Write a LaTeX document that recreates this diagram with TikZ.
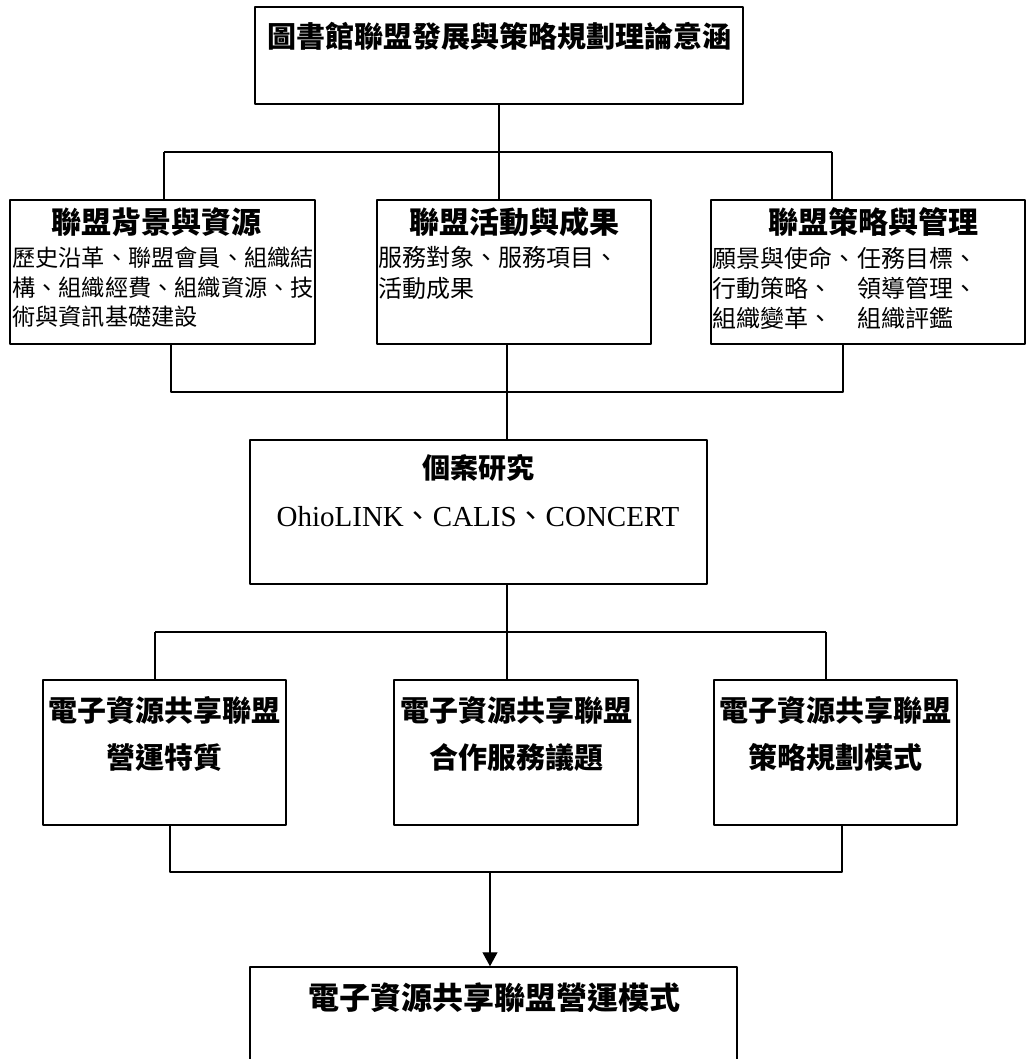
\documentclass[tikz,border=0pt]{standalone}
\usepackage{fontspec}
\setmainfont{Liberation Serif}
\newfontfamily\hei{Noto Sans CJK TC}
\usetikzlibrary{arrows.meta}

\tikzset{
  box/.style={draw, line width=1.5pt, rectangle, inner sep=0pt},
  conn/.style={line width=1.2pt},
  ttl/.style={font=\hei\bfseries\fontsize{29}{29}\selectfont, inner sep=0pt},
  body/.style={font=\hei\fontsize{24}{24}\selectfont, inner sep=0pt, anchor=west},
}
\newcommand{\dun}{{\hei 、}}

\begin{document}
\begin{tikzpicture}[x=1pt,y=-1pt,line join=round]
\useasboundingbox (0,0) rectangle (1028,1059);
% top
\node[box, minimum width=488, minimum height=97] (top) at (499,55.5) {};
\node[ttl] (topt) at (499,36) {圖書館聯盟發展與策略規劃理論意涵};
% first row
\node[box, minimum width=305, minimum height=144] (bg) at (162.5,272) {};
\node[box, minimum width=274, minimum height=144] (act) at (514,272) {};
\node[box, minimum width=314, minimum height=144] (str) at (868,272) {};
\node[ttl, font=\hei\bfseries\fontsize{30}{30}\selectfont] (bgt) at (156,222) {聯盟背景與資源};
\node[ttl, font=\hei\bfseries\fontsize{30}{30}\selectfont] (actt) at (514,222) {聯盟活動與成果};
\node[ttl, font=\hei\bfseries\fontsize{30}{30}\selectfont] (strt) at (873,222) {聯盟策略與管理};
\node[body, font=\hei\fontsize{23.2}{23.2}\selectfont] (bg1) at (12,258) {歷史沿革、聯盟會員、組織結};
\node[body, font=\hei\fontsize{23.2}{23.2}\selectfont] (bg2) at (12,288) {構、組織經費、組織資源、技};
\node[body, font=\hei\fontsize{23.2}{23.2}\selectfont] (bg3) at (12,317) {術與資訊基礎建設};
\node[body] (act1) at (378,257) {服務對象、服務項目、};
\node[body] (act2) at (378,288) {活動成果};
\node[body] (str1) at (712,258) {願景與使命、};
\node[body] (str2) at (857,258) {任務目標、};
\node[body] (str3) at (712,288) {行動策略、};
\node[body] (str4) at (857,288) {領導管理、};
\node[body] (str5) at (712,318) {組織變革、};
\node[body] (str6) at (857,318) {組織評鑑};
% case study
\node[box, minimum width=457, minimum height=144] (case) at (478.5,512) {};
\node[ttl, font=\hei\bfseries\fontsize{28}{28}\selectfont] (caset) at (478,468) {個案研究};
\node[inner sep=0pt, font=\fontsize{29}{29}\selectfont] (cases) at (478,517) {OhioLINK\dun CALIS\dun CONCERT};
% second row
\node[box, minimum width=243, minimum height=145] (feat) at (164.5,752.5) {};
\node[box, minimum width=244, minimum height=145] (serv) at (516,752.5) {};
\node[box, minimum width=243, minimum height=145] (plan) at (835.5,752.5) {};
\node[ttl, align=center, font=\hei\bfseries\fontsize{29}{47}\selectfont] (featt) at (164.5,733.5) {電子資源共享聯盟\\營運特質};
\node[ttl, align=center, font=\hei\bfseries\fontsize{29}{47}\selectfont] (servt) at (516,733.5) {電子資源共享聯盟\\合作服務議題};
\node[ttl, align=center, font=\hei\bfseries\fontsize{29}{47}\selectfont] (plant) at (835.5,733.5) {電子資源共享聯盟\\策略規劃模式};
% result
\node[box, minimum width=487, minimum height=108] (model) at (493.5,1021) {};
\node[ttl, font=\hei\bfseries\fontsize{31}{31}\selectfont] (modelt) at (494,998) {電子資源共享聯盟營運模式};

% connectors
\coordinate (j1l) at (164,152);
\coordinate (j1r) at (832,152);
\coordinate (j1) at (499,152);
\draw[conn] (top.south) -- (j1);
\draw[conn] (j1l) -- (j1r);
\draw[conn] (j1l) -- (j1l |- bg.north);
\draw[conn] (j1) -- (j1 |- act.north);
\draw[conn] (j1r) -- (j1r |- str.north);

\coordinate (j2l) at (171,392);
\coordinate (j2r) at (843,392);
\coordinate (j2) at (507,392);
\draw[conn] (j2l |- bg.south) -- (j2l) -- (j2r) -- (j2r |- str.south);
\draw[conn] (j2 |- act.south) -- (j2) -- (j2 |- case.north);

\coordinate (j3l) at (155,632);
\coordinate (j3r) at (826,632);
\coordinate (j3) at (507,632);
\draw[conn] (j3 |- case.south) -- (j3);
\draw[conn] (j3l) -- (j3r);
\draw[conn] (j3l) -- (j3l |- feat.north);
\draw[conn] (j3) -- (j3 |- serv.north);
\draw[conn] (j3r) -- (j3r |- plan.north);

\coordinate (j4l) at (170,872);
\coordinate (j4r) at (842,872);
\coordinate (j4) at (490,872);
\draw[conn] (j4l |- feat.south) -- (j4l) -- (j4r) -- (j4r |- plan.south);
\draw[conn, -{Triangle[length=14pt,width=15pt]}] (j4) -- (j4 |- model.north);
\end{tikzpicture}
\end{document}
